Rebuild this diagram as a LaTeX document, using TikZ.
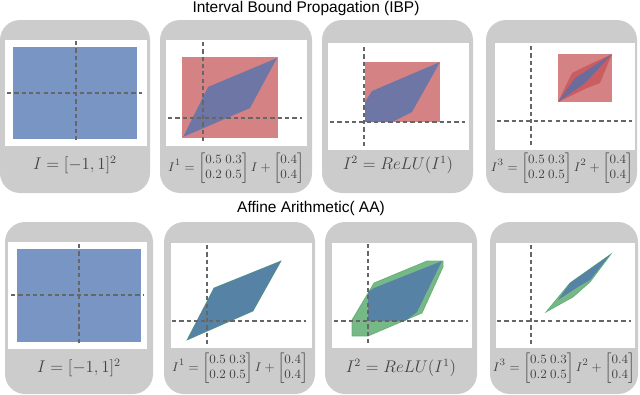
\documentclass[tikz,border=0pt]{standalone}
\usepackage{amsmath}
\usepackage{fontspec}
\setsansfont{Liberation Sans}
\usetikzlibrary{positioning, fit}
\definecolor{panelgray}{HTML}{CCCCCC}
\definecolor{ibpblue}{HTML}{4C72B0}
\definecolor{ibpred}{HTML}{C44E52}
\definecolor{aagreen}{HTML}{55A868}
\definecolor{axisgray}{HTML}{666666}
\definecolor{ink}{HTML}{444444}
\setlength{\arraycolsep}{1.2pt}
\tikzset{
  panel/.style={rectangle, rounded corners=0.5cm, fill=panelgray, draw=none, inner sep=0pt},
  plotarea/.style={rectangle, fill=white, draw=none, inner sep=0pt},
  title/.style={font=\sffamily\fontsize{11}{13}\selectfont, text=black},
  formula/.style={font=\fontsize{11.5}{13}\selectfont, text=ink, inner sep=0pt},
  matformula/.style={formula, font=\fontsize{9.5}{11}\selectfont},
  axis/.style={draw=axisgray, dash pattern=on 3pt off 2.2pt, line width=0.75pt},
  inbox/.style={fill=ibpblue, fill opacity=0.75},
  ibpbox/.style={fill=ibpred, fill opacity=0.7},
  zono/.style={fill=ibpblue, fill opacity=0.75},
  aahull/.style={fill=aagreen, fill opacity=0.8, draw=aagreen, draw opacity=0.8, line width=0.5pt},
}

\begin{document}
\begin{tikzpicture}[x=0.025cm, y=-0.025cm]
  \useasboundingbox (0,0) rectangle (640,395);

  % titles
  \node[title] (ibptitle) at (306,8) {Interval Bound Propagation (IBP)};
  \node[title] (aatitle) at (311,208) {Affine Arithmetic( AA)};

  % IBP row
  \node[panel, fit={(0,20) (150,193)}] (ibp1) {};
  \node[panel, fit={(160,20) (312,193)}] (ibp2) {};
  \node[panel, fit={(322,20) (473,193)}] (ibp3) {};
  \node[panel, fit={(486,20) (637,193)}] (ibp4) {};
  \node[plotarea, fit={(5,40) (147,146)}] (ibpplot1) {};
  \node[plotarea, fit={(166,40) (307,146)}] (ibpplot2) {};
  \node[plotarea, fit={(328,43) (469,150)}] (ibpplot3) {};
  \node[plotarea, fit={(495,43) (635,150)}] (ibpplot4) {};

  \fill[inbox] (13,47) rectangle (137,139);
  \draw[axis] (76,41) -- (76,143);
  \draw[axis] (7,93) -- (142,93);

  \fill[ibpbox] (182,57) rectangle (278,138);
  \fill[zono] (183,137) -- (208,87) -- (277,58) -- (250,108) -- cycle;
  \draw[axis] (203,42) -- (203,143);
  \draw[axis] (168,118) -- (302,118);

  \fill[ibpbox] (365,62) rectangle (440,122);
  \fill[zono] (365,122) -- (365,102) -- (372,91) -- (440,62) -- (412,112) -- (392,122) -- cycle;
  \draw[axis] (364,47) -- (364,147);
  \draw[axis] (330,122) -- (465,122);

  \fill[ibpbox] (558,54) rectangle (612,102);
  \fill[ibpbox] (558,102) -- (572,73) -- (580,69) -- (612,54) -- (600,83) -- (587,88) -- cycle;
  \fill[zono] (558,102) -- (575,78) -- (612,54) -- (585,83) -- cycle;
  \draw[axis] (531,46) -- (531,148);
  \draw[axis] (497,121) -- (632,121);

  \node[formula] (ibplab1) at (75,165) {$I = [-1,1]^2$};
  \node[matformula] (ibplab2) at (236,168)
    {$I^1 = \begin{bmatrix}0.5 & 0.3\\ 0.2 & 0.5\end{bmatrix} I + \begin{bmatrix}0.4\\ 0.4\end{bmatrix}$};
  \node[formula] (ibplab3) at (398,165) {$I^2 = ReLU(I^1)$};
  \node[matformula] (ibplab4) at (562,168)
    {$I^3 = \begin{bmatrix}0.5 & 0.3\\ 0.2 & 0.5\end{bmatrix} I^2 + \begin{bmatrix}0.4\\ 0.4\end{bmatrix}$};

  % AA row
  \node[panel, fit={(5,222) (153,394)}] (aa1) {};
  \node[panel, fit={(164,222) (315,394)}] (aa2) {};
  \node[panel, fit={(325,222) (477,394)}] (aa3) {};
  \node[panel, fit={(490,222) (638,394)}] (aa4) {};
  \node[plotarea, fit={(8,242) (147,349)}] (aaplot1) {};
  \node[plotarea, fit={(171,243) (312,348)}] (aaplot2) {};
  \node[plotarea, fit={(332,243) (472,348)}] (aaplot3) {};
  \node[plotarea, fit={(496,243) (635,348)}] (aaplot4) {};

  \fill[inbox] (17,249) rectangle (141,342);
  \draw[axis] (79,244) -- (79,346);
  \draw[axis] (11,295) -- (144,295);

  \filldraw[aahull] (187,340) -- (214,288) -- (281,261) -- (253,311) -- cycle;
  \fill[zono] (187,340) -- (214,288) -- (281,261) -- (253,311) -- cycle;
  \draw[axis] (207,245) -- (207,346);
  \draw[axis] (172,321) -- (306,321);

  \filldraw[aahull] (352,336) -- (352,320) -- (374,283) -- (427,261) -- (443,261) -- (443,267) -- (422,313) -- (368,336) -- cycle;
  \fill[zono] (368,321) -- (368,292) -- (374,288) -- (442,261) -- (417,312) -- (405,321) -- cycle;
  \draw[axis] (368,244) -- (368,345);
  \draw[axis] (334,321) -- (468,321);

  \filldraw[aahull] (546,312) -- (570,283) -- (611,254) -- (590,282) -- (573,297) -- cycle;
  \fill[zono] (558,300) -- (570,283) -- (610,255) -- (590,280) -- (578,287) -- cycle;
  \draw[axis] (531,245) -- (531,345);
  \draw[axis] (497,321) -- (631,321);

  \node[formula] (aalab1) at (79,368) {$I = [-1,1]^2$};
  \node[matformula] (aalab2) at (240,368)
    {$I^1 = \begin{bmatrix}0.5 & 0.3\\ 0.2 & 0.5\end{bmatrix} I + \begin{bmatrix}0.4\\ 0.4\end{bmatrix}$};
  \node[formula] (aalab3) at (401,368) {$I^2 = ReLU(I^1)$};
  \node[matformula] (aalab4) at (564,368)
    {$I^3 = \begin{bmatrix}0.5 & 0.3\\ 0.2 & 0.5\end{bmatrix} I^2 + \begin{bmatrix}0.4\\ 0.4\end{bmatrix}$};
\end{tikzpicture}
\end{document}
